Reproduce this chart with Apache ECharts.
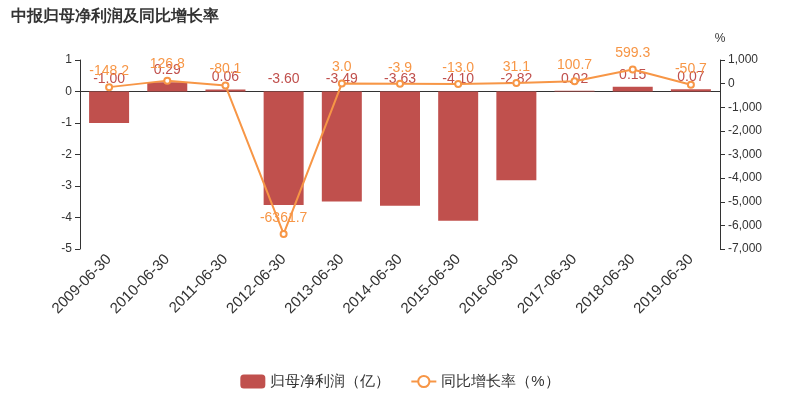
<!DOCTYPE html>
<html><head><meta charset="utf-8">
<script src="https://cdn.jsdelivr.net/npm/echarts@6/dist/echarts.min.js"></script>
<style>html,body{margin:0;padding:0;}#c{width:800px;height:400px;}</style>
</head><body><div id="c"></div>
<script>
const categories=['2009-06-30','2010-06-30','2011-06-30','2012-06-30','2013-06-30','2014-06-30','2015-06-30','2016-06-30','2017-06-30','2018-06-30','2019-06-30'];
const profit=[-1.00,0.29,0.06,-3.60,-3.49,-3.63,-4.10,-2.82,0.02,0.15,0.07];
const growth=[-148.2,126.8,-80.1,-6361.7,3.0,-3.9,-13.0,31.1,100.7,599.3,-50.7];
const chart=echarts.init(document.getElementById('c'));
chart.setOption({
 animation:false,
 title:{text:'中报归母净利润及同比增长率',left:6,top:4,textStyle:{fontSize:16,fontWeight:'bold',color:'#333'}},
 grid:{left:80,right:80,top:60,bottom:151},
 legend:{bottom:6,itemGap:20,textStyle:{fontSize:15,color:'#333'},data:['归母净利润（亿）','同比增长率（%）']},
 xAxis:{type:'category',data:categories,axisTick:{show:false},axisLine:{lineStyle:{color:'#333'}},
   axisLabel:{rotate:45,fontSize:15,color:'#333',interval:0}},
 yAxis:[
  {type:'value',min:-5,max:1,interval:1,splitLine:{show:false},axisLine:{show:true,lineStyle:{color:'#333'}},axisTick:{show:true},axisLabel:{color:'#333'}},
  {type:'value',name:'%',nameTextStyle:{color:'#333',fontSize:12},min:-7000,max:1000,interval:1000,splitLine:{show:false},axisLine:{show:true,lineStyle:{color:'#333'}},axisTick:{show:true},axisLabel:{color:'#333',formatter:v=>v.toLocaleString('en-US')}}
 ],
 series:[
  {name:'归母净利润（亿）',type:'bar',data:profit,barWidth:40,itemStyle:{color:'#c0504d'},
   label:{show:true,position:'top',color:'#c0504d',fontSize:14,formatter:p=>p.value.toFixed(2)}},
  {name:'同比增长率（%）',type:'line',yAxisIndex:1,data:growth,symbol:'emptyCircle',symbolSize:6,
   itemStyle:{color:'#f79646'},lineStyle:{color:'#f79646',width:2},
   label:{show:true,position:'top',color:'#f79646',fontSize:14,formatter:p=>p.value.toFixed(1)}}
 ]
});
</script></body></html>
